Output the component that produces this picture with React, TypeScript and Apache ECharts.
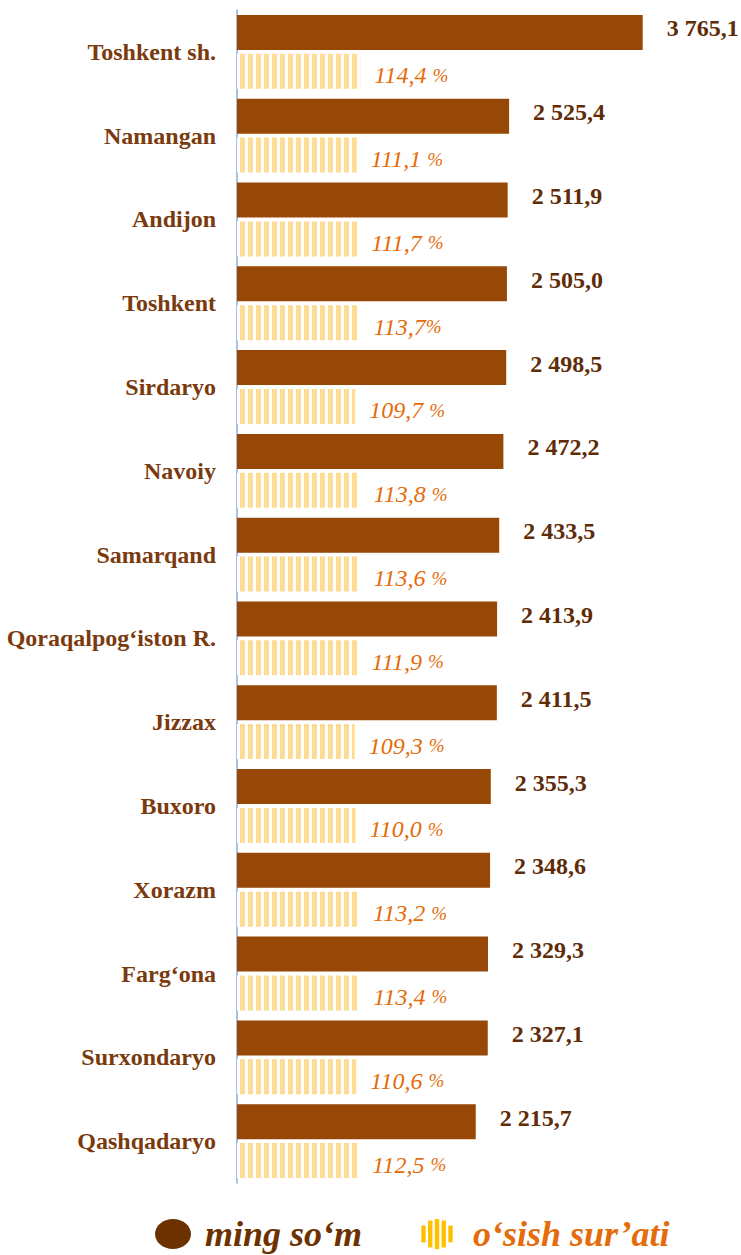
import React, { useEffect, useRef } from "react";
import * as echarts from "echarts";

const categories = [
  "Toshkent sh.",
  "Namangan",
  "Andijon",
  "Toshkent",
  "Sirdaryo",
  "Navoiy",
  "Samarqand",
  "Qoraqalpog‘iston R.",
  "Jizzax",
  "Buxoro",
  "Xorazm",
  "Farg‘ona",
  "Surxondaryo",
  "Qashqadaryo",
];

const amounts = [3765.1, 2525.4, 2511.9, 2505.0, 2498.5, 2472.2, 2433.5, 2413.9, 2411.5, 2355.3, 2348.6, 2329.3, 2327.1, 2215.7];

const growth = [114.4, 111.1, 111.7, 113.7, 109.7, 113.8, 113.6, 111.9, 109.3, 110.0, 113.2, 113.4, 110.6, 112.5];

const growthLabels = [
  "114,4 %", "111,1 %", "111,7 %", "113,7%", "109,7 %", "113,8 %", "113,6 %",
  "111,9 %", "109,3 %", "110,0 %", "113,2 %", "113,4 %", "110,6 %", "112,5 %",
];

const seriesNames = ["ming so‘m", "o‘sish sur’ati"];

function fmt(v: number): string {
  const [i, d] = v.toFixed(1).split(".");
  return i.replace(/\B(?=(\d{3})+(?!\d))/g, " ") + "," + d;
}

const SERIF = "'Liberation Serif', 'Times New Roman', serif";

export default function App() {
  const ref = useRef<HTMLDivElement>(null);
  useEffect(() => {
    const chart = echarts.init(ref.current!, null, { renderer: "svg" });
    const cv = document.createElement("canvas");
    cv.width = 8;
    cv.height = 8;
    const ctx = cv.getContext("2d")!;
    ctx.fillStyle = "#ffffff";
    ctx.fillRect(0, 0, 8, 8);
    ctx.fillStyle = "#FFDC93";
    ctx.fillRect(0, 0, 5, 8);

    const legCx = 437;
    const legCy = 1234;
    const stripeEls: any[] = [];
    [-13.5, -6.75, 0, 6.75, 13.5].forEach((dx) => {
      const rx = 17.5, ry = 15;
      const h = 2 * ry * Math.sqrt(Math.max(0, 1 - ((Math.abs(dx) + 1) / rx) ** 2));
      stripeEls.push({
        type: "rect",
        shape: { x: legCx + dx - 2.2, y: legCy - h / 2, width: 4.4, height: h },
        style: { fill: "#FFC000" },
      });
    });

    chart.setOption({
      animation: false,
      grid: { left: 237, right: 73, top: 10, height: 1173, containLabel: false },
      xAxis: [
        { type: "value", min: 0, max: 4000, show: false },
        { type: "value", min: 0, max: 400, show: false },
      ],
      yAxis: {
        type: "category",
        data: categories,
        inverse: true,
        axisLine: { show: true, lineStyle: { color: "#8FAADC", width: 1.5 } },
        axisTick: { show: false },
        axisLabel: {
          margin: 21,
          fontFamily: SERIF,
          fontWeight: "bold",
          fontSize: 24,
          color: "#7A3A0E",
        },
        splitLine: { show: false },
      },
      series: [
        {
          name: seriesNames[0],
          type: "bar",
          xAxisIndex: 0,
          data: amounts,
          barWidth: 35,
          barGap: "11%",
          itemStyle: { color: "#974706" },
          label: {
            show: true,
            position: "right",
            distance: 24,
            offset: [0, -4],
            formatter: (p: any) => fmt(p.value),
            fontFamily: SERIF,
            fontWeight: "bold",
            fontSize: 24,
            color: "#5F2C08",
          },
        },
        {
          name: seriesNames[1],
          type: "bar",
          xAxisIndex: 1,
          data: growth,
          barWidth: 35,
          itemStyle: { color: { image: cv, repeat: "repeat" } as any },
          label: {
            show: true,
            position: "right",
            distance: 14,
            offset: [0, 4],
            formatter: (p: any) => {
              const s = growthLabels[p.dataIndex];
              const num = s.replace("%", "");
              return "{n|" + num + "}{p|%}";
            },
            rich: {
              n: { fontFamily: SERIF, fontStyle: "italic", fontSize: 24, color: "#E46C0A" },
              p: { fontFamily: SERIF, fontStyle: "italic", fontSize: 19, color: "#E46C0A" },
            },
          },
        },
      ],
      graphic: [
        {
          type: "ellipse",
          shape: { cx: 173, cy: legCy, rx: 18, ry: 15 },
          style: { fill: "#6B3200" },
        },
        {
          type: "text",
          x: 205,
          y: legCy,
          style: {
            text: seriesNames[0],
            fontFamily: SERIF,
            fontWeight: "bold",
            fontStyle: "italic",
            fontSize: 36,
            fill: "#6B3200",
            verticalAlign: "middle",
          },
        },
        { type: "group", children: stripeEls },
        {
          type: "text",
          x: 473,
          y: legCy,
          style: {
            text: seriesNames[1],
            fontFamily: SERIF,
            fontWeight: "bold",
            fontStyle: "italic",
            fontSize: 36,
            fill: "#E46C0A",
            verticalAlign: "middle",
          },
        },
      ],
    });
    return () => chart.dispose();
  }, []);
  return <div ref={ref} style={{ position: "absolute", left: 0, top: 0, width: 741, height: 1255 }} />;
}
